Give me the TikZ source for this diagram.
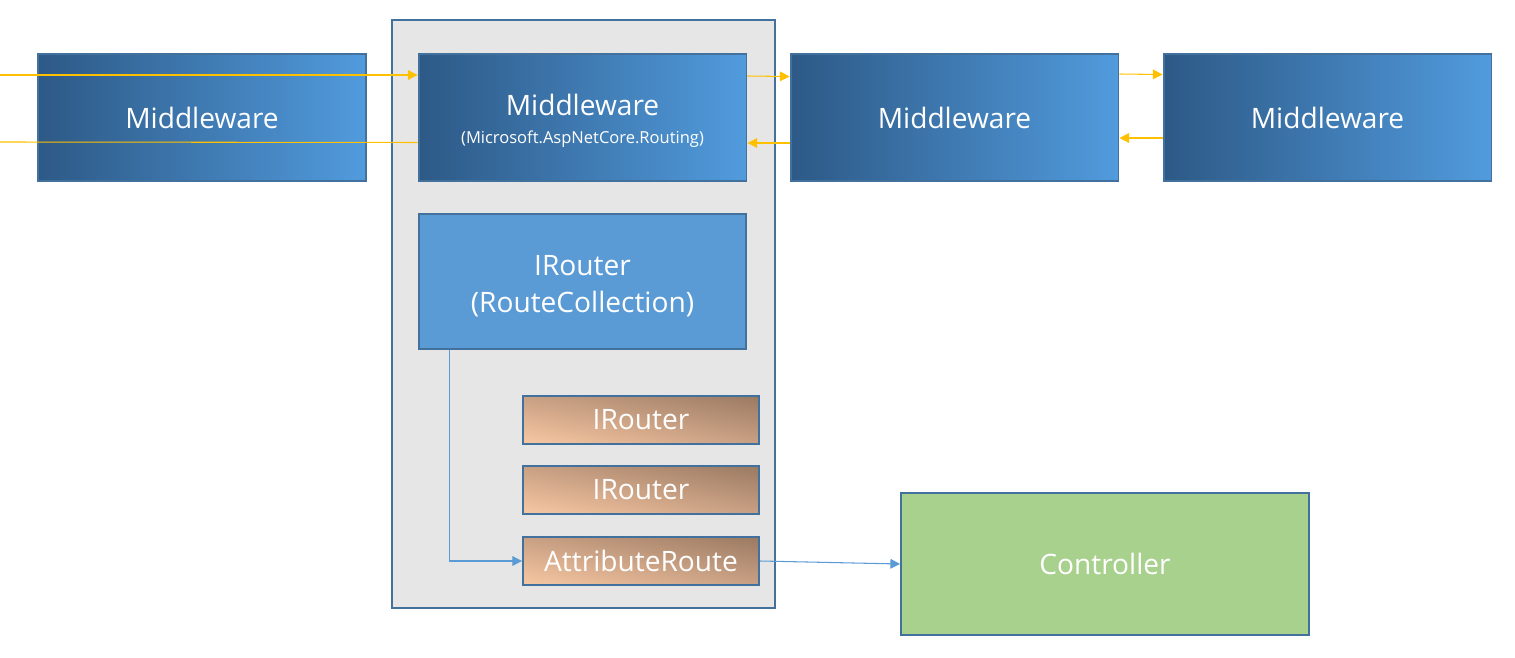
\documentclass[tikz,border=0pt]{standalone}
\usepackage{fontspec}
\setmainfont{Open Sans}
\usetikzlibrary{arrows.meta, shadings}

\definecolor{edge}{HTML}{41719C}
\definecolor{mwdark}{HTML}{2D5986}
\definecolor{mwlight}{HTML}{519BDD}
\definecolor{collblue}{HTML}{5B9BD5}
\definecolor{boxgray}{HTML}{E6E6E6}
\definecolor{flowcol}{HTML}{FFC000}
\definecolor{ctrlgreen}{HTML}{A9D18E}
\definecolor{rtdark}{HTML}{9A7A62}
\definecolor{rtmid}{HTML}{C9A084}
\definecolor{rtlight}{HTML}{F8C8A2}

\begin{document}
\begin{tikzpicture}[x=0.02cm, y=-0.02cm,
    middleware/.style={draw=edge, line width=1.1pt, left color=mwdark, right color=mwlight,
        text=white, minimum width=6.56cm, minimum height=2.54cm, align=center,
        font=\fontsize{16}{19}\selectfont},
    router/.style={draw=edge, line width=1.1pt, upper right=rtdark, lower left=rtlight,
        upper left=rtmid, lower right=rtmid,
        text=white, minimum width=4.72cm, minimum height=0.96cm,
        font=\fontsize{16}{19}\selectfont},
    flow/.style={flowcol, line width=0.6pt, -{Triangle[length=5.5pt, width=5.5pt]}},
    link/.style={collblue, line width=0.6pt, -{Triangle[length=5.5pt, width=5.5pt]}}]
    \useasboundingbox (0, 0) rectangle (1515, 658);

    % routing group
    \node [draw=edge, line width=1.1pt, fill=boxgray, minimum width=7.66cm, minimum height=11.76cm] (routing) at (583.5, 314) {};

    \node [middleware] (mw1) at (202, 117.5) {Middleware};
    \node [middleware] (mw2) at (582.5, 117.5) {\rule{0pt}{16pt}Middleware\\[-3pt]{\fontsize{9.4}{11}\selectfont(Microsoft.AspNetCore.Routing)}};
    \node [middleware] (mw3) at (954.5, 117.5) {Middleware};
    \node [middleware] (mw4) at (1327.5, 117.5) {Middleware};

    \node [draw=edge, line width=1.1pt, fill=collblue, text=white, minimum width=6.54cm, minimum height=2.7cm,
        align=center, font=\fontsize{16}{21}\selectfont] (coll) at (582.5, 281.5) {\rule{0pt}{17pt}IRouter\\(RouteCollection)};

    \node [router] (ir1) at (641, 420) {IRouter};
    \node [router] (ir2) at (641, 490) {IRouter};
    \node [router] (attr) at (641, 561) {AttributeRoute};

    \node [draw=edge, line width=1.1pt, fill=ctrlgreen, text=white, minimum width=8.16cm, minimum height=2.84cm,
        font=\fontsize{16}{19}\selectfont] (ctrl) at (1105, 564) {Controller};

    % request / response flow
    \coordinate (in1) at (0, 75);
    \coordinate (out1) at (0, 142);
    \draw [flow] (in1) -- (in1 -| mw2.west);
    \draw [flowcol, line width=0.6pt] ([yshift=-0.5cm]mw2.west) -- (out1);
    \draw [flow] ([yshift=0.83cm]mw2.east) -- ([yshift=0.82cm]mw3.west);
    \draw [flow] ([yshift=-0.51cm]mw3.west) -- ([yshift=-0.51cm]mw2.east);
    \draw [flow] ([yshift=0.87cm]mw3.east) -- ([yshift=0.86cm]mw4.west);
    \draw [flow] ([yshift=-0.41cm]mw4.west) -- ([yshift=-0.41cm]mw3.east);

    % routing to controller
    \draw [link] ([xshift=0.62cm]coll.south west) |- (attr.west);
    \draw [link] (attr.east) -- (ctrl.west);

\end{tikzpicture}
\end{document}
